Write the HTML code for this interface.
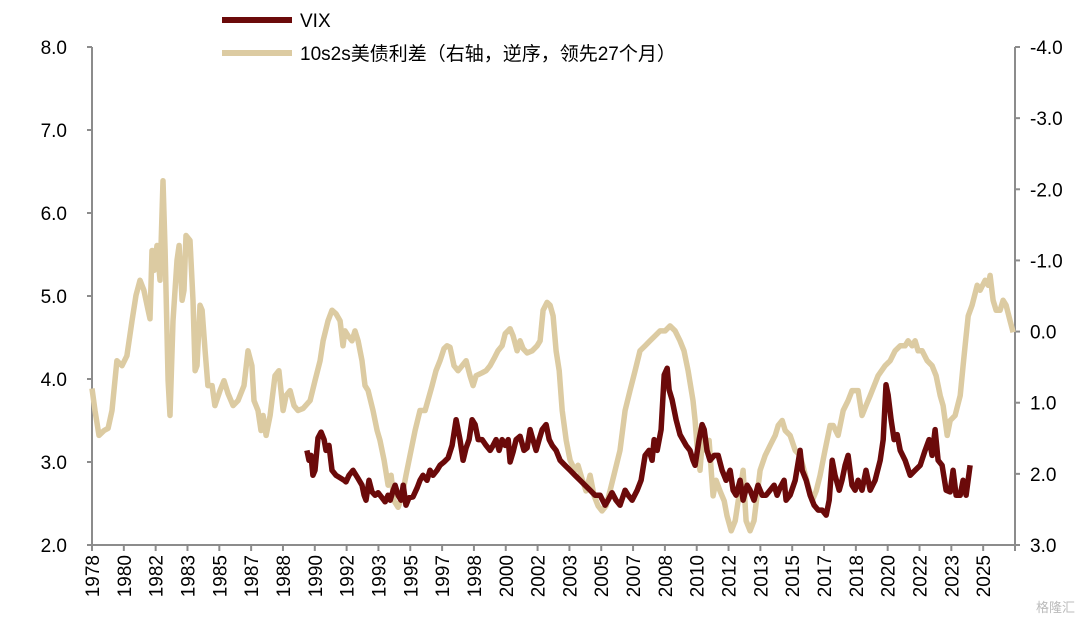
<!DOCTYPE html>
<html><head><meta charset="utf-8">
<style>
html,body{margin:0;padding:0;background:#fff;}
svg{display:block;font-family:"Liberation Sans","Noto Sans CJK SC",sans-serif;}
</style></head>
<body>
<svg id="chart" width="1080" height="626" viewBox="0 0 1080 626">
  <g id="axes"></g>
  <g id="series"></g>
  <g>
    <g>
      <line x1="222" y1="20" x2="292" y2="20" stroke="#6b0a0a" stroke-width="6"/>
      <text x="300" y="27" font-size="19" fill="#000">VIX</text>
    </g>
    <g>
      <line x1="222" y1="53" x2="292" y2="53" stroke="#dccba2" stroke-width="6"/>
      <text x="300" y="60" font-size="19" fill="#000">10s2s美债利差（右轴，逆序，领先27个月）</text>
    </g>
  </g>
  <text x="1075" y="612" font-size="13" fill="#bbb" text-anchor="end">格隆汇</text>
</svg>
<script>
const xTickLabels = ["1978","1980","1982","1983","1985","1987","1988","1990","1992","1993","1995","1997","1998","2000","2002","2003","2005","2007","2008","2010","2012","2013","2015","2017","2018","2020","2022","2023","2025"];
const leftTicks = [2,3,4,5,6,7,8];
const rightTicks = [-4,-3,-2,-1,0,1,2,3];
const spreadYears = [1978.0,1978.16,1978.37,1978.64,1978.85,1979.06,1979.32,1979.59,1979.85,1980.12,1980.33,1980.54,1980.75,1980.97,1981.07,1981.18,1981.28,1981.44,1981.6,1981.76,1981.87,1982.03,1982.13,1982.29,1982.5,1982.61,1982.77,1982.87,1982.98,1983.19,1983.35,1983.46,1983.56,1983.72,1983.83,1983.99,1984.14,1984.36,1984.51,1984.78,1984.99,1985.2,1985.47,1985.73,1986.05,1986.26,1986.47,1986.58,1986.79,1986.95,1987.06,1987.22,1987.43,1987.69,1987.9,1988.12,1988.28,1988.49,1988.7,1988.91,1989.18,1989.55,1989.81,1990.08,1990.24,1990.5,1990.71,1990.92,1991.14,1991.29,1991.4,1991.56,1991.77,1991.93,1992.09,1992.3,1992.46,1992.62,1992.88,1993.1,1993.25,1993.47,1993.68,1993.84,1994.0,1994.21,1994.42,1994.63,1994.84,1995.11,1995.37,1995.64,1996.01,1996.22,1996.43,1996.64,1996.8,1996.96,1997.17,1997.38,1997.6,1997.81,1998.02,1998.18,1998.34,1998.66,1998.87,1999.08,1999.29,1999.5,1999.72,1999.88,2000.14,2000.3,2000.51,2000.67,2000.83,2001.04,2001.31,2001.57,2001.73,2001.89,2002.1,2002.26,2002.42,2002.58,2002.74,2002.9,2003.11,2003.32,2003.58,2003.74,2003.95,2004.16,2004.38,2004.59,2004.8,2005.01,2005.22,2005.43,2005.7,2005.96,2006.23,2006.49,2006.76,2007.02,2007.29,2007.55,2007.82,2008.08,2008.35,2008.61,2008.88,2009.14,2009.35,2009.57,2009.83,2009.94,2010.04,2010.2,2010.36,2010.52,2010.68,2010.79,2010.89,2011.05,2011.26,2011.48,2011.63,2011.85,2012.06,2012.22,2012.32,2012.48,2012.64,2012.85,2013.06,2013.38,2013.65,2013.91,2014.18,2014.34,2014.55,2014.71,2014.97,2015.24,2015.5,2015.71,2015.92,2016.14,2016.35,2016.56,2016.82,2017.09,2017.25,2017.51,2017.78,2018.04,2018.25,2018.57,2018.78,2018.99,2019.21,2019.63,2020.0,2020.27,2020.53,2020.8,2021.06,2021.22,2021.43,2021.59,2021.75,2021.96,2022.23,2022.49,2022.7,2022.92,2023.07,2023.29,2023.45,2023.71,2023.98,2024.13,2024.24,2024.4,2024.61,2024.88,2025.03,2025.3,2025.46,2025.56,2025.72,2025.88,2026.09,2026.25,2026.41,2026.62,2026.78];
const spreadValues = [0.80,1.11,1.46,1.39,1.36,1.11,0.41,0.48,0.34,-0.15,-0.51,-0.72,-0.58,-0.30,-0.18,-1.14,-0.86,-1.21,-0.72,-2.12,-1.14,0.69,1.18,-0.15,-1.0,-1.21,-0.44,-0.58,-1.35,-1.28,-0.44,0.55,0.48,-0.37,-0.30,0.27,0.76,0.76,1.04,0.83,0.69,0.87,1.04,0.97,0.76,0.27,0.48,0.97,1.11,1.39,1.18,1.46,1.18,0.62,0.55,1.11,0.90,0.83,1.04,1.11,1.08,0.97,0.69,0.41,0.13,-0.15,-0.30,-0.25,-0.15,0.20,-0.01,0.06,0.13,-0.01,0.13,0.41,0.76,0.83,1.11,1.39,1.53,1.81,2.16,2.02,2.38,2.47,2.31,2.02,1.74,1.39,1.11,1.11,0.76,0.55,0.41,0.24,0.20,0.22,0.48,0.55,0.48,0.41,0.62,0.76,0.62,0.58,0.55,0.48,0.38,0.27,0.20,0.03,-0.04,0.06,0.27,0.13,0.24,0.30,0.27,0.20,0.13,-0.30,-0.41,-0.37,-0.22,0.27,0.55,1.11,1.53,1.81,1.95,1.88,2.07,2.24,2.02,2.31,2.45,2.52,2.45,2.24,1.95,1.67,1.11,0.83,0.55,0.27,0.20,0.13,0.06,-0.01,-0.01,-0.08,-0.01,0.13,0.27,0.55,0.97,1.25,1.60,1.95,1.39,1.67,1.53,1.95,2.31,2.09,2.24,2.38,2.59,2.80,2.66,2.38,2.24,1.95,2.66,2.80,2.66,1.95,1.74,1.60,1.46,1.32,1.25,1.39,1.46,1.67,1.74,1.95,2.16,2.38,2.24,2.02,1.67,1.32,1.32,1.46,1.11,0.97,0.83,0.83,1.18,1.04,0.90,0.62,0.48,0.41,0.27,0.20,0.20,0.13,0.20,0.13,0.27,0.27,0.41,0.48,0.62,0.90,1.04,1.46,1.25,1.18,0.90,0.48,0.20,-0.22,-0.37,-0.65,-0.58,-0.72,-0.65,-0.79,-0.44,-0.30,-0.30,-0.44,-0.37,-0.15,0.01];
const vixYears = [1989.38,1989.49,1989.6,1989.7,1989.81,1989.97,1990.13,1990.29,1990.39,1990.55,1990.71,1990.92,1991.14,1991.35,1991.45,1991.61,1991.82,1992.04,1992.3,1992.41,1992.51,1992.67,1992.83,1992.99,1993.15,1993.36,1993.52,1993.68,1993.79,1993.95,1994.05,1994.21,1994.37,1994.48,1994.63,1994.79,1995.0,1995.22,1995.37,1995.53,1995.74,1995.9,1996.06,1996.27,1996.43,1996.64,1996.86,1997.07,1997.28,1997.49,1997.65,1997.81,1997.97,1998.13,1998.29,1998.45,1998.66,1998.87,1999.08,1999.24,1999.4,1999.56,1999.72,1999.88,2000.04,2000.14,2000.3,2000.46,2000.67,2000.88,2001.04,2001.2,2001.31,2001.52,2001.68,2001.84,2002.05,2002.21,2002.37,2002.58,2002.79,2003.05,2003.32,2003.58,2003.85,2004.11,2004.38,2004.64,2004.91,2005.17,2005.33,2005.54,2005.75,2005.96,2006.23,2006.39,2006.6,2006.87,2007.08,2007.29,2007.5,2007.66,2007.77,2007.93,2008.14,2008.3,2008.46,2008.56,2008.72,2008.93,2009.14,2009.46,2009.67,2009.83,2009.94,2010.15,2010.31,2010.42,2010.57,2010.73,2010.95,2011.16,2011.37,2011.58,2011.79,2011.95,2012.11,2012.32,2012.48,2012.69,2012.85,2013.06,2013.27,2013.49,2013.7,2013.91,2014.12,2014.28,2014.44,2014.65,2014.76,2014.97,2015.24,2015.5,2015.61,2015.82,2016.03,2016.24,2016.46,2016.67,2016.88,2017.04,2017.2,2017.35,2017.57,2017.72,2017.88,2018.04,2018.25,2018.41,2018.57,2018.78,2018.99,2019.21,2019.47,2019.74,2019.9,2020.05,2020.16,2020.32,2020.48,2020.64,2020.8,2021.06,2021.33,2021.59,2021.86,2022.12,2022.33,2022.49,2022.65,2022.81,2023.02,2023.23,2023.45,2023.6,2023.76,2023.98,2024.13,2024.29,2024.5];
const vixValues = [3.14,3.02,3.08,2.84,2.90,3.29,3.36,3.27,3.14,3.20,2.90,2.84,2.81,2.78,2.76,2.84,2.90,2.82,2.72,2.60,2.54,2.78,2.64,2.60,2.63,2.57,2.52,2.60,2.54,2.66,2.72,2.60,2.54,2.72,2.48,2.57,2.58,2.69,2.78,2.84,2.78,2.90,2.84,2.90,2.96,3.00,3.05,3.20,3.51,3.27,3.02,3.17,3.27,3.51,3.45,3.27,3.27,3.20,3.14,3.20,3.27,3.14,3.27,3.20,3.27,3.00,3.12,3.27,3.31,3.14,3.17,3.39,3.30,3.14,3.27,3.39,3.45,3.27,3.20,3.14,3.02,2.96,2.90,2.84,2.78,2.72,2.66,2.60,2.60,2.48,2.54,2.63,2.54,2.48,2.66,2.60,2.54,2.66,2.78,3.08,3.14,3.02,3.27,3.14,3.39,4.05,4.13,3.87,3.75,3.51,3.33,3.20,3.14,3.02,2.96,3.27,3.45,3.39,3.14,3.02,3.08,3.08,2.90,2.78,2.90,2.66,2.60,2.78,2.54,2.72,2.66,2.54,2.72,2.60,2.60,2.66,2.72,2.60,2.69,2.78,2.54,2.60,2.78,3.14,2.90,2.78,2.60,2.48,2.42,2.42,2.36,2.54,3.02,2.84,2.66,2.78,2.96,3.08,2.72,2.66,2.78,2.66,2.90,2.66,2.78,3.02,3.27,3.93,3.81,3.51,3.27,3.33,3.14,3.02,2.84,2.90,2.96,3.14,3.27,3.08,3.39,3.02,2.96,2.66,2.64,2.90,2.60,2.60,2.78,2.60,2.96];

const X0=92, X1=1015, YT=47, YB=545, T0=1978.0, T1=2026.88;
const xs = t => X0 + (t - T0) / (T1 - T0) * (X1 - X0);
const yl = v => YB - (v - 2) / 6 * (YB - YT);
const yr = v => YT + (v + 4) / 7 * (YB - YT);
const NS='http://www.w3.org/2000/svg';
function mk(tag, attrs, parent){const e=document.createElementNS(NS,tag);for(const k in attrs)e.setAttribute(k,attrs[k]);parent.appendChild(e);return e;}
const axes=document.getElementById('axes'), series=document.getElementById('series');

const la=mk('line',{x1:X0,y1:YT,x2:X0,y2:YB,stroke:'#8c8c8c','stroke-width':2},axes);


const ra=mk('line',{x1:X1,y1:YT,x2:X1,y2:YB,stroke:'#8c8c8c','stroke-width':2},axes);


const xa=mk('line',{x1:X0,y1:YB,x2:X1,y2:YB,stroke:'#8c8c8c','stroke-width':2},axes);



leftTicks.forEach(v=>{
  const y=yl(v);
  mk('line',{x1:X0-5,y1:y,x2:X0,y2:y,stroke:'#8c8c8c','stroke-width':2},axes);
  const t=mk('text',{x:67,y:y+7,'font-size':19,'text-anchor':'end',fill:'#000'},axes);
  t.textContent=v.toFixed(1);
  
  
});
rightTicks.forEach(v=>{
  const y=yr(v);
  mk('line',{x1:X1,y1:y,x2:X1+5,y2:y,stroke:'#8c8c8c','stroke-width':2},axes);
  const t=mk('text',{x:1030,y:y+7,'font-size':19,'text-anchor':'start',fill:'#000'},axes);
  t.textContent=v.toFixed(1);
  
  
});
const nInt = xTickLabels.length;
for(let i=0;i<=nInt;i++){
  const x=X0+i*(X1-X0)/nInt;
  mk('line',{x1:x,y1:YB,x2:x,y2:YB+6,stroke:'#8c8c8c','stroke-width':2},axes);
  if(i<nInt){
    const t=mk('text',{x:0,y:0,'font-size':19,'text-anchor':'end',fill:'#000',transform:`translate(${x+7},${YB+10}) rotate(-90)`},axes);
    t.textContent=xTickLabels[i];
    
    
  }
}
function path(years, vals, yf){
  return years.map((t,i)=>(i?'L':'M')+xs(t).toFixed(1)+' '+yf(vals[i]).toFixed(1)).join(' ');
}
const sp=mk('path',{d:path(spreadYears,spreadValues,yr),fill:'none',stroke:'#dccba2','stroke-width':5.5,'stroke-linejoin':'round'},series);


const vx=mk('path',{d:path(vixYears,vixValues,yl),fill:'none',stroke:'#6b0a0a','stroke-width':5.5,'stroke-linejoin':'round'},series);


</script>
</body></html>
